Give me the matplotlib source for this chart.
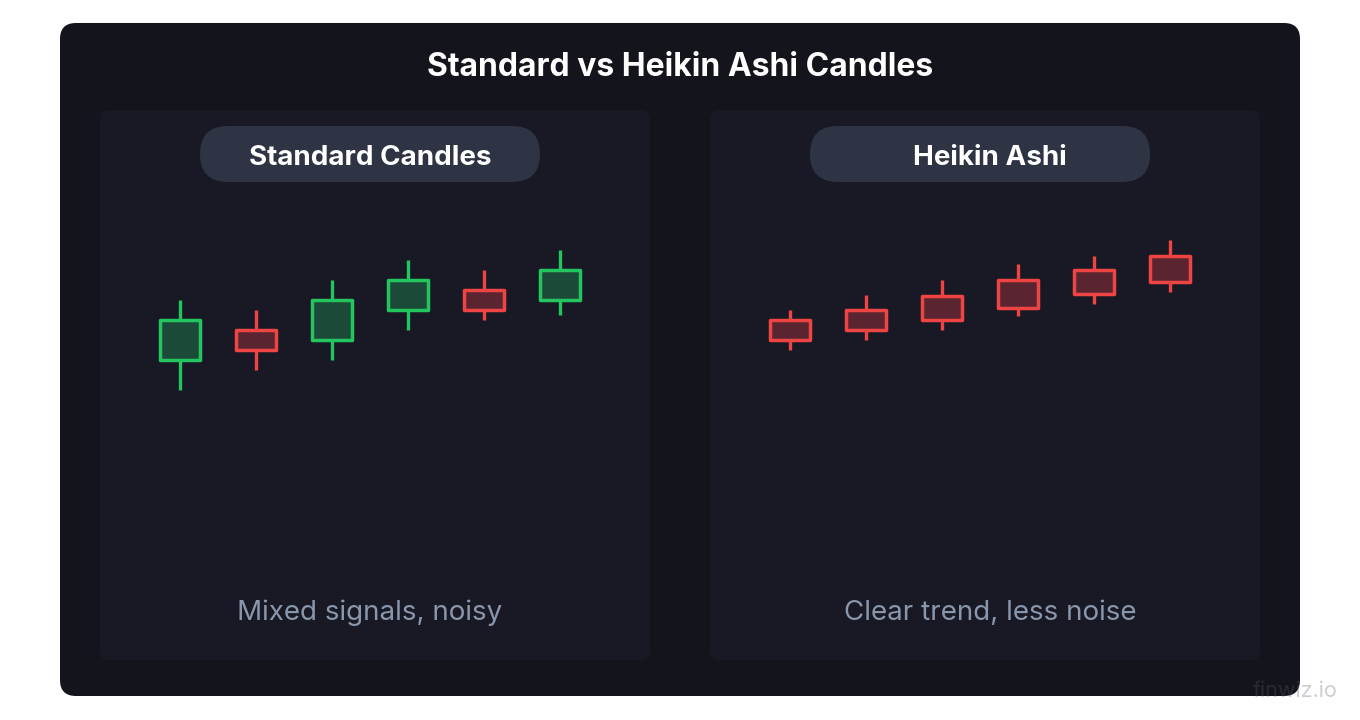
import matplotlib.pyplot as plt
from matplotlib.patches import FancyBboxPatch, Rectangle

plt.rcParams['font.family'] = ['Inter', 'DejaVu Sans']

# candle values (higher = up)
std_open = [40, 70, 60, 90, 110, 100]
std_high = [100, 90, 120, 140, 130, 150]
std_low = [10, 30, 40, 70, 80, 85]
std_close = [80, 50, 100, 120, 90, 130]

ha_open = [80, 90, 104, 120, 130, 144]
ha_high = [90, 105, 120, 136, 144, 160]
ha_low = [50, 60, 70, 84, 96, 108]
ha_close = [60, 70, 80, 92, 106, 118]

# Heikin Ashi panel in the source is drawn all in red
ha_colors = ['red'] * 6

title = 'Standard vs Heikin Ashi Candles'
panel_titles = ['Standard Candles', 'Heikin Ashi']
captions = ['Mixed signals, noisy', 'Clear trend, less noise']

GREEN = '#22c55e'
GREEN_FILL = '#1c4a38'
RED = '#ef4444'
RED_FILL = '#5a2530'

W, H = 1360, 720
fig = plt.figure(figsize=(W / 100, H / 100), dpi=100, facecolor='white')

# background axes in pixel coords for the card layout
bg = fig.add_axes([0, 0, 1, 1])
bg.set_xlim(0, W)
bg.set_ylim(H, 0)
bg.axis('off')

bg.add_patch(FancyBboxPatch((60, 23), 1240, 673, boxstyle='round,pad=0,rounding_size=16',
                            facecolor='#14141c', edgecolor='none'))
bg.text(680, 68, title, color='white', fontsize=23, fontweight='bold',
        ha='center', va='center')

# text centres differ slightly from the pill centres in the source
for x0, pill_cx, text_cx, ptitle, cap in [(100, 370, 370, panel_titles[0], captions[0]),
                                          (710, 980, 990, panel_titles[1], captions[1])]:
    bg.add_patch(FancyBboxPatch((x0, 110), 550, 550, boxstyle='round,pad=0,rounding_size=9',
                                facecolor='#181924', edgecolor='none'))
    bg.add_patch(FancyBboxPatch((pill_cx - 170, 126), 340, 56, boxstyle='round,pad=0,rounding_size=28',
                                facecolor='#2e3444', edgecolor='none'))
    bg.text(text_cx, 158, ptitle, color='white', fontsize=20, fontweight='bold',
            ha='center', va='center')
    bg.text(text_cx, 613, cap, color='#8a96ab', fontsize=20,
            ha='center', va='center')

bg.text(1338, 691, 'finwiz.io', color='#585c68', alpha=0.3, fontsize=15.5, ha='right', va='center')


def draw_candles(ax, o, h, l, c, colors=None):
    for k in range(len(o)):
        up = c[k] > o[k]
        if colors is not None:
            up = colors[k] == 'green'
        edge = GREEN if up else RED
        fill = GREEN_FILL if up else RED_FILL
        ax.plot([k, k], [l[k], h[k]], color=edge, lw=2.4, solid_capstyle='butt', zorder=2)
        lo, hi = min(o[k], c[k]), max(o[k], c[k])
        ax.add_patch(Rectangle((k - 20 / 76, lo), 40 / 76, hi - lo, facecolor=fill,
                               edgecolor=edge, lw=2.5, joinstyle='round', zorder=3))


# candle axes: 76 px per candle, first candle 80 px in from the panel edge
for x0, data in [(100, (std_open, std_high, std_low, std_close, None)),
                 (710, (ha_open, ha_high, ha_low, ha_close, ha_colors))]:
    ax = fig.add_axes([x0 / W, (H - 660) / H, 550 / W, 550 / H])
    ax.set_xlim(-80 / 76, 470 / 76)
    ax.set_ylim(400 - 660, 400 - 110)
    ax.axis('off')
    draw_candles(ax, *data)

fig.savefig('out.png', dpi=100, facecolor='white')
